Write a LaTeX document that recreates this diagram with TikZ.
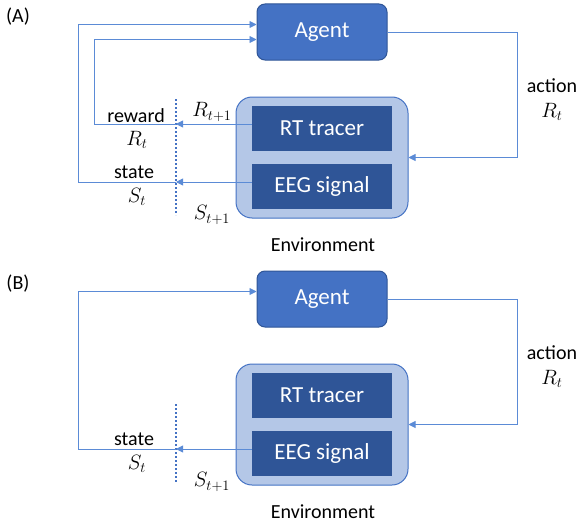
\documentclass[tikz,border=0pt]{standalone}
\usepackage{fontspec}
\setmainfont{Carlito}
\usetikzlibrary{arrows.meta}
\definecolor{agentblue}{HTML}{4472C4}
\definecolor{agentedge}{HTML}{2F5597}
\definecolor{envfill}{HTML}{B4C7E7}
\definecolor{boxfill}{HTML}{2F5597}
\definecolor{linkblue}{HTML}{5B8BD6}

\begin{document}
\begin{tikzpicture}[x=1pt,y=-1pt,
	agent/.style={draw=agentedge,fill=agentblue,rounded corners=8pt,line width=1pt,minimum width=130pt,minimum height=56pt,text=white,font=\fontsize{23}{27}\selectfont},
	env/.style={draw=agentblue,fill=envfill,rounded corners=16pt,line width=1pt,minimum width=172pt,minimum height=121pt},
	part/.style={fill=boxfill,minimum width=140pt,minimum height=45pt,text=white,font=\fontsize{23}{27}\selectfont},
	flow/.style={draw=linkblue,line width=0.9pt},
	arrow/.style={flow,-{Triangle[width=7pt,length=7pt]}},
	cut/.style={draw=agentblue,line width=2pt,dash pattern=on 2pt off 2pt},
	lbl/.style={font=\fontsize{20}{24}\selectfont}]
	\useasboundingbox (0,0) rectangle (580,527);

	% Panel (A)
	\node[lbl] (tagA) at (18,17) {(A)};

	% Draw agent and environment
	\node[agent] (agentA) at (322,32) {Agent};
	\node[env] (envA) at (322,157.5) {};
	\node[part] (rtA) at (322,128.5) {RT tracer};
	\node[part] (eegA) at (322,186.5) {EEG signal};
	\node[lbl] (envtxtA) at (323,245) {Environment};

	% Draw time cut
	\coordinate (cutTopA) at (176,99);
	\coordinate (cutBotA) at (176,215);
	\draw[cut] (cutTopA) -- (cutBotA);

	% Draw action
	\coordinate (actA) at (517,157.5);
	\draw[arrow] (agentA.east) -| (actA) -- (envA.east);
	\node[lbl] (actionA) at (552,86) {action};
	\node[lbl] (actRA) at (552,112) {$R_t$};

	% Draw reward feedback
	\coordinate (rewA) at (176,124);
	\coordinate (rewTurnA) at (94,124);
	\draw[arrow] (rtA.west |- rewA) -- (rewA);
	\draw[arrow] (rewA) -- (rewTurnA) |- ([yshift=-7.5pt]agentA.west);
	\node[lbl] (rewardA) at (136,116) {reward};
	\node[lbl] (rewRA) at (137,140) {$R_t$};
	\node[lbl] (nextRA) at (212,112) {$R_{t+1}$};

	% Draw state feedback
	\coordinate (stA) at (176,182);
	\coordinate (stTurnA) at (78,182);
	\draw[arrow] (eegA.west |- stA) -- (stA);
	\draw[arrow] (stA) -- (stTurnA) |- ([yshift=7.5pt]agentA.west);
	\node[lbl] (stateA) at (134,172) {state};
	\node[lbl] (stSA) at (137,197) {$S_t$};
	\node[lbl] (nextSA) at (212,215) {$S_{t+1}$};

	% Panel (B)
	\node[lbl] (tagB) at (18,284) {(B)};

	% Draw agent and environment
	\node[agent] (agentB) at (322,299) {Agent};
	\node[env] (envB) at (322,424.5) {};
	\node[part] (rtB) at (322,395.5) {RT tracer};
	\node[part] (eegB) at (322,453.5) {EEG signal};
	\node[lbl] (envtxtB) at (323,512) {Environment};

	% Draw time cut
	\coordinate (cutTopB) at (176,404);
	\coordinate (cutBotB) at (176,482);
	\draw[cut] (cutTopB) -- (cutBotB);

	% Draw action
	\coordinate (actB) at (517,424.5);
	\draw[arrow] (agentB.east) -| (actB) -- (envB.east);
	\node[lbl] (actionB) at (552,353) {action};
	\node[lbl] (actRB) at (552,379) {$R_t$};

	% Draw state feedback
	\coordinate (stB) at (176,449);
	\coordinate (stTurnB) at (78,449);
	\draw[arrow] (eegB.west |- stB) -- (stB);
	\draw[arrow] (stB) -- (stTurnB) |- ([yshift=7.5pt]agentB.west);
	\node[lbl] (stateB) at (134,439) {state};
	\node[lbl] (stSB) at (137,464) {$S_t$};
	\node[lbl] (nextSB) at (212,482) {$S_{t+1}$};
\end{tikzpicture}
\end{document}
